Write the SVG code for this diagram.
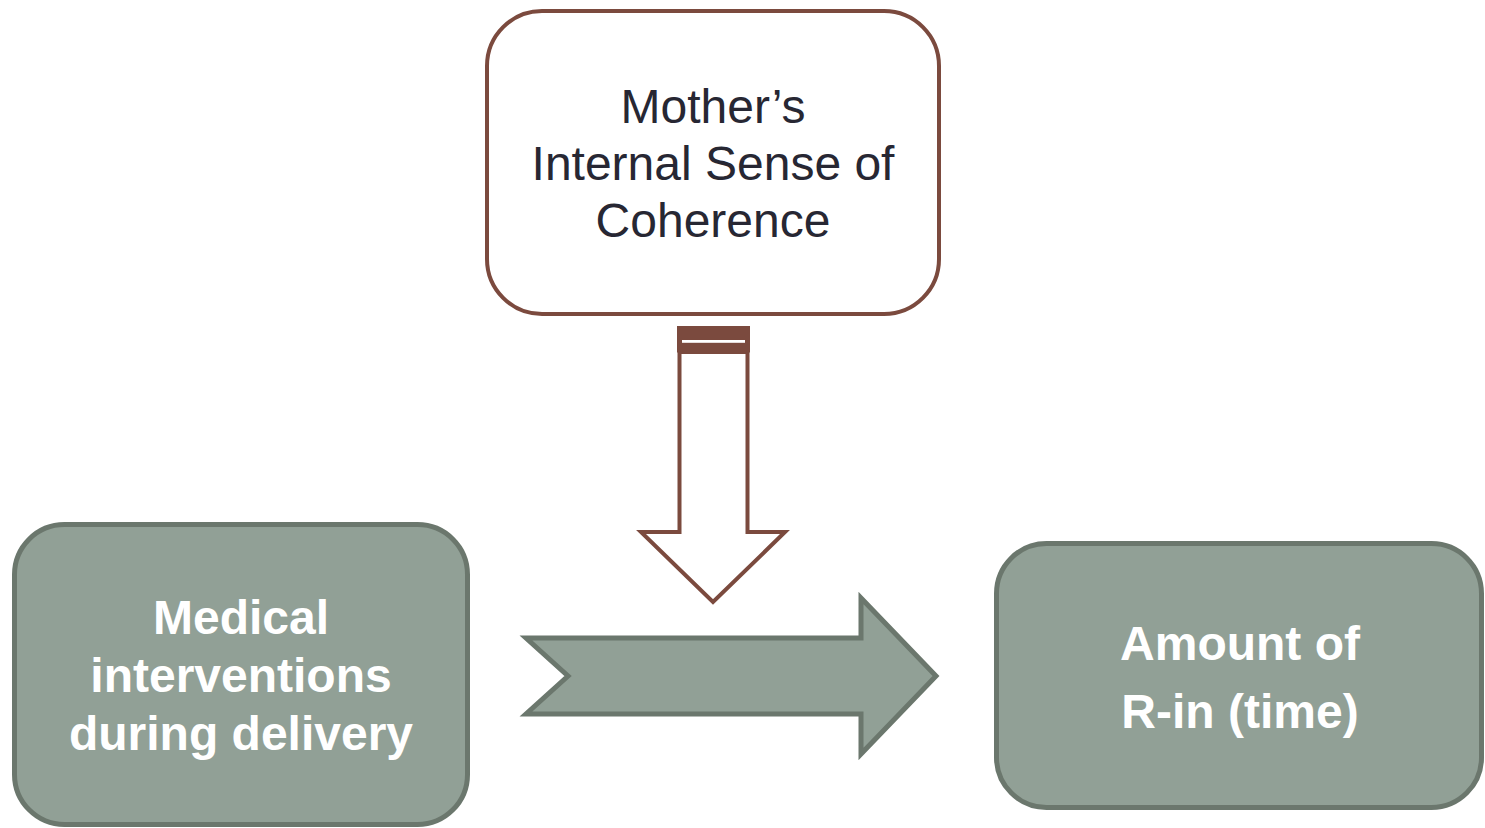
<svg xmlns="http://www.w3.org/2000/svg" width="1485" height="828" viewBox="0 0 1485 828">
<style>
.brown{fill:#ffffff;stroke:#7b4a3e;stroke-width:4}
.green{fill:#91a096;stroke:#6b776d;stroke-width:5}
.t1{font-family:"Liberation Sans",Arial,sans-serif;font-size:48px;fill:#272733;text-anchor:middle}
.t2{font-family:"Liberation Sans",Arial,sans-serif;font-size:48px;font-weight:bold;fill:#ffffff;text-anchor:middle}
</style>
<rect width="1485" height="828" fill="#ffffff"/>
<g id="connectors">
<g id="down-arrow">
<path class="brown" d="M679.5,352 L679.5,532 L641,532 L713,602 L785,532 L747.5,532 L747.5,352 Z" stroke-width="4.5"/>
<rect x="677" y="326" width="73" height="26.5" fill="#7b4a3e"/>
<rect x="682" y="340" width="63" height="2.8" fill="#ffffff"/>
</g>
<path id="right-arrow" class="green" d="M526,638 L861,638 L861,598 L936,676 L861,754 L861,714 L526,714 L568,676 Z"/>
</g>
<g id="node-mother">
<rect class="brown" x="487" y="11" width="452" height="303" rx="55" ry="55"/>
<text class="t1" x="713" y="123">Mother’s</text>
<text class="t1" x="713" y="180">Internal Sense of</text>
<text class="t1" x="713" y="237">Coherence</text>
</g>
<g id="node-medical">
<rect class="green" x="14.5" y="524.5" width="453" height="300" rx="50" ry="50"/>
<text class="t2" x="241" y="634">Medical</text>
<text class="t2" x="241" y="692">interventions</text>
<text class="t2" x="241" y="750">during delivery</text>
</g>
<g id="node-amount">
<rect class="green" x="996.5" y="543.5" width="485" height="264" rx="50" ry="50"/>
<text class="t2" x="1240" y="660">Amount of</text>
<text class="t2" x="1240" y="728">R-in (time)</text>
</g>
</svg>
